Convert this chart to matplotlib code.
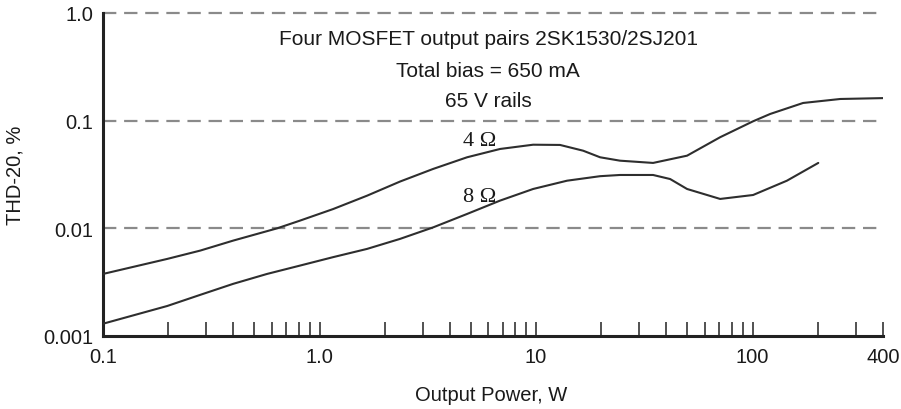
import numpy as np
import matplotlib
matplotlib.use("Agg")
import matplotlib.pyplot as plt
from matplotlib.ticker import FixedLocator, NullFormatter

plt.rcParams['font.family'] = ['Liberation Sans', 'DejaVu Sans']

# THD-20 vs output power
power_4 = [0.1, 0.198, 0.281, 0.399, 0.637, 0.813, 1.155, 1.657, 2.354, 3.344,
           4.80, 6.82, 9.69, 12.9, 16.5, 19.75, 24.4, 34.7, 49.8, 70.8, 100.5,
           120.5, 171, 254, 400]
thd_4 = [0.00377, 0.0052, 0.00621, 0.00769, 0.0100, 0.0118, 0.0151, 0.0201,
         0.0272, 0.0356, 0.0457, 0.0546, 0.0598, 0.0595, 0.0526, 0.0457, 0.0425,
         0.0405, 0.0473, 0.0702, 0.0987, 0.1154, 0.146, 0.159, 0.162]

power_8 = [0.1, 0.198, 0.281, 0.399, 0.572, 0.813, 1.155, 1.657, 2.354, 3.344,
           4.80, 6.82, 9.69, 13.9, 19.75, 24.4, 34.7, 41.6, 49.8, 70.8, 100.5,
           144, 201]
thd_8 = [0.0013, 0.0019, 0.00241, 0.00305, 0.00377, 0.00451, 0.0054, 0.00644,
         0.00798, 0.0102, 0.0136, 0.0181, 0.0232, 0.0277, 0.0305, 0.0313,
         0.0313, 0.0287, 0.0232, 0.01875, 0.0204, 0.0277, 0.0405]

grid_levels = [0.01, 0.1, 1.0]
x_major = [0.1, 1, 10, 100, 400]
x_major_labels = ['0.1', '1.0', '10', '100', '400']
y_major = [0.001, 0.01, 0.1, 1.0]
y_major_labels = ['0.001', '0.01', '0.1', '1.0']

fig = plt.figure(figsize=(9.01, 4.10), dpi=100)
ax = fig.add_axes([103 / 901, 1 - 337 / 410, 780 / 901, 323 / 410])

ax.set_xscale('log')
ax.set_yscale('log')
ax.set_xlim(0.1, 400)
ax.set_ylim(0.001, 1.0)

for lvl in grid_levels:
    ax.axhline(lvl, xmin=0, xmax=0.994, color='#8a8a8a', lw=1.6,
               dashes=(6, 3.5), zorder=1, clip_on=False)

for px, py in [(power_4, thd_4), (power_8, thd_8)]:
    ax.plot(px, py, color='#2e2e2e', lw=1.5, zorder=3,
            solid_joinstyle='round', solid_capstyle='round')

for side in ['top', 'right']:
    ax.spines[side].set_visible(False)
for side in ['left', 'bottom']:
    ax.spines[side].set_linewidth(2.2)
    ax.spines[side].set_color('#222222')

minor = []
for dec in [0.1, 1, 10]:
    minor += [dec * k for k in range(2, 10)]
minor += [200, 300]
ax.xaxis.set_major_locator(FixedLocator(x_major))
ax.set_xticklabels(x_major_labels)
ax.xaxis.set_minor_locator(FixedLocator(minor))
ax.xaxis.set_minor_formatter(NullFormatter())
ax.tick_params(axis='x', which='both', direction='in', length=10, width=1.2,
               color='#333333', labelsize=14.5, pad=8, labelcolor='#1a1a1a')

ax.yaxis.set_major_locator(FixedLocator(y_major))
ax.set_yticklabels(y_major_labels)
ax.yaxis.set_minor_locator(FixedLocator([]))
ax.tick_params(axis='y', which='both', length=0, labelsize=14.5, pad=7,
               labelcolor='#1a1a1a')

fig.text(15 / 901, 1 - 175 / 410, 'THD-20, %', rotation=90, ha='center',
         va='center', fontsize=14.5, color='#1a1a1a')
fig.text(491 / 901, 1 - 396 / 410, 'Output Power, W', ha='center',
         va='center', fontsize=14.5, color='#1a1a1a')

notes = ['Four MOSFET output pairs 2SK1530/2SJ201', 'Total bias = 650 mA',
         '65 V rails']
for txt, yy in zip(notes, [0.920, 0.822, 0.730]):
    ax.text(0.494, yy, txt, transform=ax.transAxes, ha='center', va='center',
            fontsize=15, color='#1a1a1a')

ax.text(0.483, 0.604, '4 \u03a9', transform=ax.transAxes, ha='center',
        va='center', fontsize=16, family='Liberation Serif', color='#1a1a1a')
ax.text(0.483, 0.433, '8 \u03a9', transform=ax.transAxes, ha='center',
        va='center', fontsize=16, family='Liberation Serif', color='#1a1a1a')

fig.savefig('out.png', dpi=100)
